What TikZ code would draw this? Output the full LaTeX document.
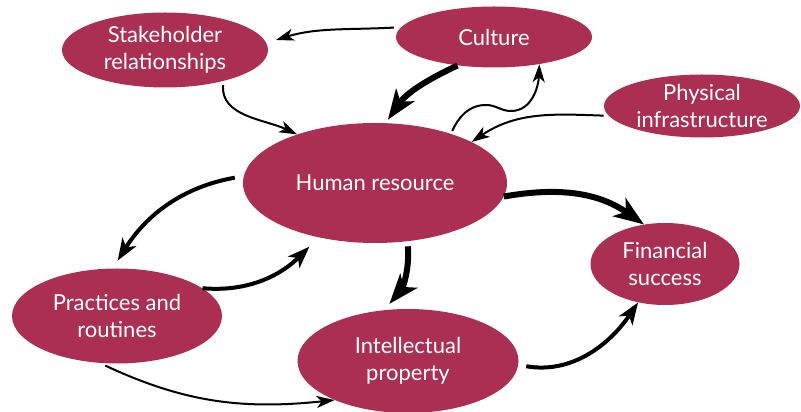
\documentclass[tikz,border=0pt]{standalone}
\usepackage{fontspec}
\setmainfont{Lato}
\usetikzlibrary{shapes.geometric,arrows.meta}
\definecolor{blobred}{RGB}{171,46,83}

\begin{document}
\begin{tikzpicture}[x=1pt,y=1pt,
    blob/.style={ellipse,fill=blobred,inner sep=0pt,text=white,align=center,
      font=\fontsize{22}{27}\selectfont},
    thinarr/.style={line width=2pt,-{Stealth[length=18pt,width=12pt,inset=5pt]}},
    midarr/.style={line width=4pt,-{Stealth[length=22pt,width=16pt,inset=6pt]}},
    fatarr/.style={line width=6pt,-{Stealth[length=30pt,width=22pt,inset=8pt]}}]
    \useasboundingbox (0,0) rectangle (801,412);
    % ellipses
    \node[blob,minimum width=206pt,minimum height=75pt] (stake) at (165,362) {Stakeholder\\relationships};
    \node[blob,minimum width=196pt,minimum height=61pt] (cul) at (494,375) {Culture};
    \node[blob,minimum width=196pt,minimum height=63pt] (phys) at (702,306) {Physical\\infrastructure};
    \node[blob,minimum width=264pt,minimum height=120pt] (hr) at (375,229) {Human resource};
    \node[blob,minimum width=149pt,minimum height=82pt] (fin) at (665,148) {Financial\\success};
    \node[blob,minimum width=210pt,minimum height=95pt] (prac) at (117,96) {Practices and\\routines};
    \node[blob,minimum width=221pt,minimum height=104pt] (ip) at (408,51) {Intellectual\\property};
    % links
    \draw[thinarr,shorten <=7pt,shorten >=10pt] (cul.174) to[out=183,in=17] (stake.4);
    \draw[thinarr,shorten <=4pt] (stake.-28) to[out=-95,in=155] (hr.148);
    \draw[fatarr,shorten >=4pt] (cul.218) to[out=205,in=55] (hr.80);
    \draw[thinarr,shorten <=3pt] (hr.33) to[out=65,in=180] (486,307) to[out=0,in=180] (511,301) to[out=0,in=-92] (cul.-31);
    \draw[thinarr,shorten <=5pt] (phys.186) to[out=178,in=34] (hr.23);
    \draw[fatarr] (hr.-6) to[out=10,in=145] (fin.118);
    \draw[midarr,shorten <=9pt,shorten >=9pt] (hr.177) to[out=190,in=58] (prac.95);
    \draw[midarr,shorten >=13pt] (prac.18) to[out=-5,in=225] (hr.224);
    \draw[fatarr,shorten <=5pt,shorten >=8pt] (hr.-61) to[out=-85,in=50] (ip.115);
    \draw[thinarr,shorten <=6pt] (prac.250) to[out=-25,in=186] (ip.208);
    \draw[midarr,shorten <=8pt] (ip.-2) to[out=-10,in=236] (fin.235);
\end{tikzpicture}
\end{document}
